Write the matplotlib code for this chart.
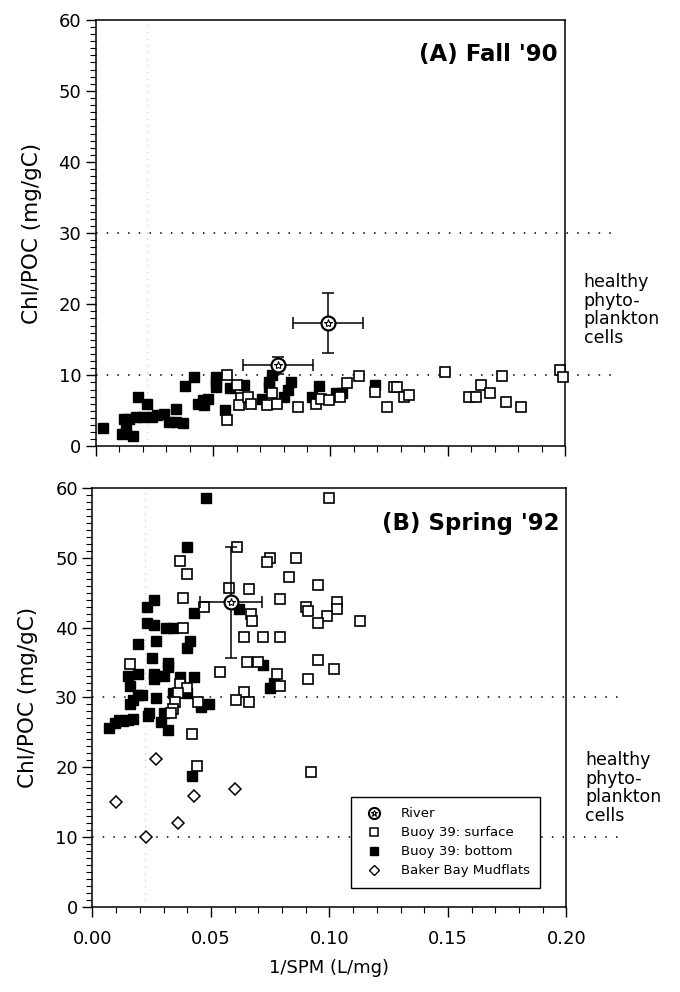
import matplotlib
matplotlib.use("Agg")
import matplotlib.pyplot as plt
from matplotlib.ticker import MultipleLocator, FormatStrFormatter
from matplotlib.lines import Line2D

plt.rcParams['font.family'] = ['DejaVu Sans']

# ---- (A) Fall '90 ----
a_bottom_x = [0.003, 0.011, 0.013, 0.016, 0.018, 0.022, 0.012, 0.014, 0.017, 0.020, 0.024, 0.026,
              0.029, 0.031, 0.034, 0.034, 0.037, 0.038, 0.042, 0.0435, 0.0455, 0.046, 0.048, 0.051,
              0.051, 0.051, 0.055, 0.057, 0.063, 0.071, 0.074, 0.075, 0.074, 0.080, 0.082, 0.083,
              0.092, 0.095, 0.1025, 0.105, 0.119]
a_bottom_y = [2.6, 1.8, 2.3, 1.5, 7.0, 6.0, 3.9, 3.9, 4.2, 4.1, 4.1, 4.4,
              4.6, 3.4, 5.3, 3.4, 3.3, 8.5, 9.7, 6.0, 6.5, 5.8, 6.6, 9.7,
              8.3, 9.0, 5.1, 8.2, 8.6, 6.6, 9.0, 10.0, 8.3, 6.9, 7.9, 9.0,
              6.9, 8.5, 7.5, 7.5, 8.7]
a_surface_x = [0.056, 0.056, 0.060, 0.062, 0.061, 0.065, 0.066, 0.073, 0.075, 0.077, 0.086, 0.094,
               0.096, 0.0995, 0.104, 0.107, 0.112, 0.119, 0.124, 0.127, 0.1285, 0.1315, 0.1336,
               0.149, 0.159, 0.162, 0.164, 0.168, 0.173, 0.175, 0.181, 0.198, 0.199]
a_surface_y = [10.0, 3.7, 8.6, 6.8, 5.8, 7.0, 6.0, 5.8, 7.5, 5.9, 5.6, 5.9,
               6.6, 6.5, 6.9, 8.9, 9.9, 7.6, 5.6, 8.3, 8.3, 6.9, 7.2,
               10.4, 7.0, 7.0, 8.6, 7.5, 9.9, 6.2, 5.6, 10.8, 9.7]
a_river_x = [0.0775, 0.099]
a_river_y = [11.4, 17.4]
a_river_xerr = [0.015, 0.0148]
a_river_yerr = [1.2, 4.2]

# ---- (B) Spring '92 ----
b_surface_x = [0.100, 0.061, 0.037, 0.040, 0.075, 0.0735, 0.086, 0.083, 0.095, 0.0575, 0.066, 0.038,
               0.079, 0.047, 0.067, 0.0675, 0.090, 0.091, 0.103, 0.103, 0.099, 0.095, 0.038, 0.064,
               0.072, 0.079, 0.113, 0.016, 0.065, 0.070, 0.095, 0.102, 0.054, 0.037, 0.040, 0.078,
               0.079, 0.091, 0.036, 0.064, 0.0605, 0.066, 0.0445, 0.035, 0.034, 0.033, 0.042,
               0.044, 0.092]
b_surface_y = [58.6, 51.6, 49.6, 47.7, 50.0, 49.4, 50.0, 47.3, 46.1, 45.7, 45.6, 44.3,
               44.1, 42.9, 42.0, 40.9, 42.9, 42.4, 43.6, 42.7, 41.6, 40.6, 40.0, 38.6,
               38.7, 38.7, 41.0, 34.8, 35.1, 35.1, 35.3, 34.0, 33.6, 31.9, 31.4, 33.3,
               31.7, 32.7, 30.6, 30.7, 29.6, 29.4, 29.3, 29.3, 28.3, 27.7, 24.7,
               20.1, 19.3]
b_bottom_x = [0.048, 0.040, 0.026, 0.023, 0.043, 0.062, 0.023, 0.026, 0.031, 0.034, 0.019, 0.027,
              0.041, 0.040, 0.025, 0.032, 0.032, 0.072, 0.019, 0.015, 0.026, 0.026, 0.030, 0.037,
              0.043, 0.016, 0.0765, 0.075, 0.034, 0.040, 0.019, 0.021, 0.027, 0.017, 0.016, 0.046,
              0.049, 0.024, 0.0235, 0.030, 0.029, 0.011, 0.013, 0.015, 0.017, 0.0097, 0.007,
              0.032, 0.042]
b_bottom_y = [58.6, 51.6, 44.0, 42.9, 42.1, 42.7, 40.6, 40.4, 39.9, 39.9, 37.7, 38.1,
              38.1, 37.1, 35.7, 34.9, 34.4, 34.7, 33.4, 33.1, 33.4, 32.7, 33.0, 32.9,
              32.9, 31.7, 32.0, 31.3, 30.6, 30.6, 30.3, 30.4, 29.9, 29.6, 29.0, 28.6,
              29.0, 27.7, 27.4, 27.7, 26.4, 26.7, 26.6, 26.7, 26.9, 26.3, 25.6,
              25.3, 18.7]
b_mud_x = [0.027, 0.010, 0.043, 0.060, 0.036, 0.0225]
b_mud_y = [21.1, 15.0, 15.9, 16.9, 12.0, 10.0]
b_river_x = [0.0585]
b_river_y = [43.6]
b_river_xerr = [0.013]
b_river_yerr = [8.0]

healthy_lines = [10, 30]
healthy_text = "healthy\nphyto-\nplankton\ncells"

fig = plt.figure(figsize=(6.8, 9.92), dpi=100)
ax_a = fig.add_axes([0.141, 0.550, 0.690, 0.430])
ax_b = fig.add_axes([0.136, 0.086, 0.697, 0.422])

ms = 6.5


def style_axes(ax):
    ax.set_xlim(0, 0.2)
    ax.set_ylim(0, 60)
    ax.xaxis.set_major_locator(MultipleLocator(0.05))
    ax.xaxis.set_minor_locator(MultipleLocator(0.01))
    ax.yaxis.set_major_locator(MultipleLocator(10))
    ax.yaxis.set_minor_locator(MultipleLocator(1))
    ax.tick_params(which='major', direction='out', length=7, width=1.0, labelsize=13,
                   top=False, right=False)
    ax.tick_params(which='minor', direction='out', length=4, width=0.8, top=False, right=False)
    for s in ax.spines.values():
        s.set_linewidth(1.1)
    ax.set_ylabel("Chl/POC (mg/gC)", fontsize=15.5, labelpad=12)
    ax.axvline(0.022, color='0.75', linestyle=(0, (1, 5)), linewidth=0.8, zorder=0)
    for yv in healthy_lines:
        ax.plot([0, 0.223], [yv, yv], color='black', linestyle=(0, (1, 6)), linewidth=1.1,
                clip_on=False, zorder=1)


def draw_river(ax, x, y, xerr, yerr):
    ax.errorbar(x, y, xerr=xerr, yerr=yerr, fmt='none', ecolor='black', elinewidth=1.1,
                capsize=4, capthick=1.1, zorder=4)
    ax.plot(x, y, 'o', ms=10, mfc='white', mec='black', mew=1.6, zorder=5, linestyle='none')
    ax.plot(x, y, '*', ms=6, mfc='none', mec='black', mew=0.8, zorder=6, linestyle='none')


style_axes(ax_a)
ax_a.plot(a_bottom_x, a_bottom_y, 's', ms=ms, color='black', linestyle='none', zorder=3,
          clip_on=False)
ax_a.plot(a_surface_x, a_surface_y, 's', ms=ms, mfc='white', mec='black', mew=1.2,
          linestyle='none', zorder=3, clip_on=False)
draw_river(ax_a, a_river_x, a_river_y, a_river_xerr, a_river_yerr)
ax_a.tick_params(axis='x', labelbottom=False)
ax_a.text(0.985, 0.918, "(A) Fall '90", transform=ax_a.transAxes, ha='right', va='center',
          fontsize=16.5, fontweight='bold')
ax_a.text(0.208, 19.2, healthy_text, ha='left', va='center', fontsize=12.5, linespacing=1.05)

style_axes(ax_b)
ax_b.plot(b_bottom_x, b_bottom_y, 's', ms=ms, color='black', linestyle='none', zorder=3)
ax_b.plot(b_surface_x, b_surface_y, 's', ms=ms, mfc='white', mec='black', mew=1.2,
          linestyle='none', zorder=3)
ax_b.plot(b_mud_x, b_mud_y, 'D', ms=6, mfc='white', mec='black', mew=1.1,
          linestyle='none', zorder=3)
draw_river(ax_b, b_river_x, b_river_y, b_river_xerr, b_river_yerr)
ax_b.set_xlabel("1/SPM (L/mg)", fontsize=13, labelpad=8)
ax_b.xaxis.set_major_formatter(FormatStrFormatter('%.2f'))
ax_b.tick_params(axis='x', pad=10)
ax_b.text(0.985, 0.915, "(B) Spring '92", transform=ax_b.transAxes, ha='right', va='center',
          fontsize=16.5, fontweight='bold')
ax_b.text(0.208, 17, healthy_text, ha='left', va='center', fontsize=12.5, linespacing=1.05)

h_river = (Line2D([], [], marker='o', ms=8, mfc='white', mec='black', mew=1.5, linestyle='none'),
           Line2D([], [], marker='*', ms=4.5, mfc='none', mec='black', mew=0.8, linestyle='none'))
h_surf = Line2D([], [], marker='s', ms=5.5, mfc='white', mec='black', mew=1.1, linestyle='none')
h_bot = Line2D([], [], marker='s', ms=5.5, color='black', linestyle='none')
h_mud = Line2D([], [], marker='D', ms=5, mfc='white', mec='black', mew=1.0, linestyle='none')
leg = ax_b.legend([h_river, h_surf, h_bot, h_mud],
                  ["River", "Buoy 39: surface", "Buoy 39: bottom", "Baker Bay Mudflats"],
                  loc='lower right', bbox_to_anchor=(0.945, 0.045), fontsize=9.5,
                  frameon=True, fancybox=False, edgecolor='black', framealpha=1,
                  borderpad=0.8, labelspacing=0.45, handlelength=2.0, handletextpad=1.0,
                  borderaxespad=0)
leg.get_frame().set_linewidth(1.0)

fig.savefig("out.png", dpi=100)
